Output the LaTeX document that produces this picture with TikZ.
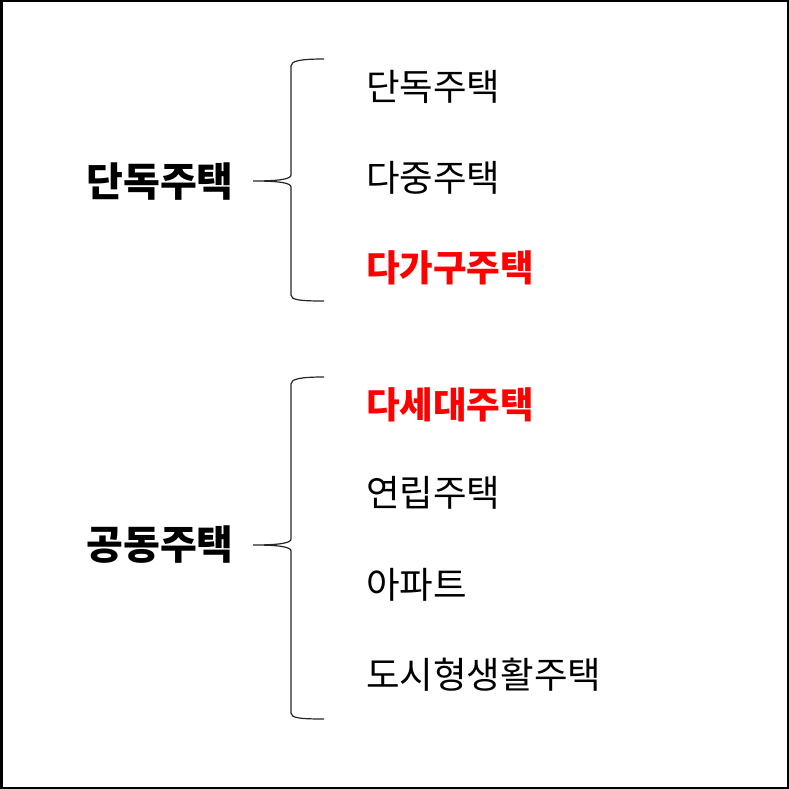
\documentclass[tikz,border=0pt]{standalone}
\usepackage{fontspec}
\setmainfont{Noto Sans CJK KR}
\begin{document}
\begin{tikzpicture}[x=1pt,y=-1pt,
  item/.style={anchor=west,inner sep=0pt,font=\fontsize{36.5}{44}\selectfont},
  head/.style={inner sep=0pt,font=\fontsize{40}{48}\selectfont\bfseries},
  hot/.style={text=red,font=\fontsize{36.5}{44}\selectfont\bfseries},
  brace/.style={line width=1.2pt,draw=black!85}]
\useasboundingbox (0,0) rectangle (789,789);
\draw[line width=2.5pt] (1.25,1.25) rectangle (787.75,787.75);
% left headings
\node[head] (h1) at (160,182) {단독주택};
\node[head] (h2) at (160,545) {공동주택};
% items
\node[item] (a1) at (366,87) {단독주택};
\node[item] (a2) at (366,178) {다중주택};
\node[item,hot] (a3) at (366,268) {다가구주택};
\node[item,hot] (b1) at (366,405) {다세대주택};
\node[item] (b2) at (366,493) {연립주택};
\node[item] (b3) at (366,585) {아파트};
\node[item] (b4) at (366,675) {도시형생활주택};
% braces
\coordinate (t1) at (253,181);
\coordinate (t2) at (253,545);
\draw[brace] (324,59) .. controls (300,59) and (291,61) .. (291,66) -- (291,175)
  .. controls (291,179) and (280,181) .. (t1)
  .. controls (280,181) and (291,183) .. (291,187) -- (291,295)
  .. controls (291,300) and (300,301) .. (324,301);
\draw[brace] (324,377) .. controls (300,377) and (291,379) .. (291,384) -- (291,539)
  .. controls (291,543) and (280,545) .. (t2)
  .. controls (280,545) and (291,547) .. (291,551) -- (291,713)
  .. controls (291,718) and (300,719) .. (324,719);
\end{tikzpicture}
\end{document}
